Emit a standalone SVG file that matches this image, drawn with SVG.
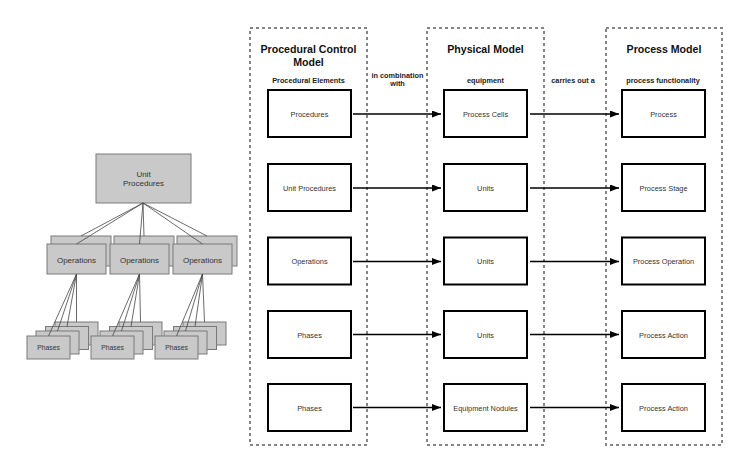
<svg xmlns="http://www.w3.org/2000/svg" width="750" height="458" viewBox="0 0 750 458">
<defs>
<style>
text{font-family:"Liberation Sans",Arial,sans-serif;text-anchor:middle;dominant-baseline:central}
.hdr{font-size:10.6px;font-weight:bold;fill:#111}
.sub{font-size:7.3px;font-weight:bold;fill:#222}
.lbl{font-size:7.4px;fill:#333}
.glbl{font-size:8px;fill:#333}
.plbl{font-size:6.8px;fill:#333}
.cont{fill:none;stroke:#858585;stroke-width:2;stroke-dasharray:3 3}
.box{fill:#fff;stroke:#000;stroke-width:2}
.gbox{fill:#c9c9c9;stroke:#7a7a7a;stroke-width:1}
.tree{stroke:#444;stroke-width:0.8;fill:none}
.arr{stroke:#000;stroke-width:1.5;fill:none;marker-end:url(#ah)}
</style>
<marker id="ah" markerUnits="userSpaceOnUse" markerWidth="10" markerHeight="8" refX="9" refY="3.5" orient="auto">
<path d="M0,0 L9,3.5 L0,7 z" fill="#000"/>
</marker>
</defs>
<rect width="750" height="458" fill="#fff"/>

<!-- left hierarchy -->
<g id="hierarchy">
<g id="unit-procedures-node">
<rect class="gbox" x="96" y="154" width="95" height="49"/>
<text class="glbl" x="143.5" y="174">Unit</text>
<text class="glbl" x="143.5" y="183">Procedures</text>
</g>
<g id="operations-1">
<rect class="gbox" x="51" y="236" width="60" height="30"/>
<rect class="gbox" x="47" y="244" width="59" height="30"/>
<text class="glbl" x="76.5" y="260">Operations</text>
</g>
<g id="operations-2">
<rect class="gbox" x="114" y="236" width="60" height="30"/>
<rect class="gbox" x="110" y="244" width="59" height="30"/>
<text class="glbl" x="139.5" y="260">Operations</text>
</g>
<g id="operations-3">
<rect class="gbox" x="177" y="236" width="60" height="30"/>
<rect class="gbox" x="173" y="244" width="59" height="30"/>
<text class="glbl" x="202.5" y="260">Operations</text>
</g>
<g id="phases-1">
<rect class="gbox" x="55" y="322" width="43" height="23"/>
<rect class="gbox" x="45.5" y="326.5" width="43" height="23"/>
<rect class="gbox" x="36" y="331" width="43" height="23"/>
<rect class="gbox" x="27" y="336" width="43" height="23"/>
<text class="plbl" x="48.5" y="347.5">Phases</text>
</g>
<g id="phases-2">
<rect class="gbox" x="119" y="322" width="43" height="23"/>
<rect class="gbox" x="109.5" y="326.5" width="43" height="23"/>
<rect class="gbox" x="100" y="331" width="43" height="23"/>
<rect class="gbox" x="91" y="336" width="43" height="23"/>
<text class="plbl" x="112.5" y="347.5">Phases</text>
</g>
<g id="phases-3">
<rect class="gbox" x="183" y="322" width="43" height="23"/>
<rect class="gbox" x="173.5" y="326.5" width="43" height="23"/>
<rect class="gbox" x="164" y="331" width="43" height="23"/>
<rect class="gbox" x="155" y="336" width="43" height="23"/>
<text class="plbl" x="176.5" y="347.5">Phases</text>
</g>
<g id="tree-lines" class="tree">
<path d="M143,203 L81,236 M143,203 L76.5,244 M143,203 L144,236 M143,203 L139.5,244 M143,203 L207,236 M143,203 L202.5,244"/>
<path d="M76.5,274 L48.5,336 M76.5,274 L57.5,331 M76.5,274 L67,326.5 M76.5,274 L76.5,322"/>
<path d="M139.5,274 L112.5,336 M139.5,274 L121.5,331 M139.5,274 L131,326.5 M139.5,274 L140.5,322"/>
<path d="M202.5,274 L176.5,336 M202.5,274 L185.5,331 M202.5,274 L195,326.5 M202.5,274 L204.5,322"/>
</g>
</g>

<!-- containers -->
<g id="containers">
<rect class="cont" x="250" y="28" width="117" height="417"/>
<rect class="cont" x="427" y="28" width="117" height="417"/>
<rect class="cont" x="606" y="28" width="116" height="417"/>
</g>

<g id="headers">
<text class="hdr" x="308.5" y="49">Procedural Control</text>
<text class="hdr" x="308.5" y="62">Model</text>
<text class="sub" x="308.5" y="80">Procedural Elements</text>
<text class="hdr" x="485.5" y="49">Physical Model</text>
<text class="sub" x="485.5" y="80.5">equipment</text>
<text class="hdr" x="664" y="49">Process Model</text>
<text class="sub" x="663" y="80.5">process functionality</text>
<text class="sub" x="397.5" y="75.5">in combination</text>
<text class="sub" x="397.5" y="83.5">with</text>
<text class="sub" x="573" y="80.5">carries out a</text>
</g>

<!-- procedural elements -->
<g id="pe-procedures"><rect class="box" x="268" y="90" width="83" height="47"/><text class="lbl" x="309.5" y="114">Procedures</text></g>
<g id="pe-unit-procedures"><rect class="box" x="268" y="164" width="83" height="47"/><text class="lbl" x="309.5" y="188">Unit Procedures</text></g>
<g id="pe-operations"><rect class="box" x="268" y="237.5" width="83" height="47"/><text class="lbl" x="309.5" y="261.5">Operations</text></g>
<g id="pe-phases-1"><rect class="box" x="268" y="311" width="83" height="47"/><text class="lbl" x="309.5" y="335">Phases</text></g>
<g id="pe-phases-2"><rect class="box" x="268" y="384" width="83" height="47"/><text class="lbl" x="309.5" y="408">Phases</text></g>

<!-- physical model -->
<g id="pm-process-cells"><rect class="box" x="444" y="90" width="83" height="47"/><text class="lbl" x="485.5" y="114">Process Cells</text></g>
<g id="pm-units-1"><rect class="box" x="444" y="164" width="83" height="47"/><text class="lbl" x="485.5" y="188">Units</text></g>
<g id="pm-units-2"><rect class="box" x="444" y="237.5" width="83" height="47"/><text class="lbl" x="485.5" y="261.5">Units</text></g>
<g id="pm-units-3"><rect class="box" x="444" y="311" width="83" height="47"/><text class="lbl" x="485.5" y="335">Units</text></g>
<g id="pm-equipment-nodules"><rect class="box" x="444" y="384" width="83" height="47"/><text class="lbl" x="485.5" y="408">Equipment Nodules</text></g>

<!-- process model -->
<g id="pr-process"><rect class="box" x="622" y="90" width="83" height="47"/><text class="lbl" x="663.5" y="114">Process</text></g>
<g id="pr-process-stage"><rect class="box" x="622" y="164" width="83" height="47"/><text class="lbl" x="663.5" y="188">Process Stage</text></g>
<g id="pr-process-operation"><rect class="box" x="622" y="237.5" width="83" height="47"/><text class="lbl" x="663.5" y="261.5">Process Operation</text></g>
<g id="pr-process-action-1"><rect class="box" x="622" y="311" width="83" height="47"/><text class="lbl" x="663.5" y="335">Process Action</text></g>
<g id="pr-process-action-2"><rect class="box" x="622" y="384" width="83" height="47"/><text class="lbl" x="663.5" y="408">Process Action</text></g>

<!-- connectors -->
<g id="connectors">
<line class="arr" x1="353" y1="114" x2="441" y2="114"/>
<line class="arr" x1="353" y1="188" x2="441" y2="188"/>
<line class="arr" x1="353" y1="261.5" x2="441" y2="261.5"/>
<line class="arr" x1="353" y1="334.5" x2="441" y2="334.5"/>
<line class="arr" x1="353" y1="407.5" x2="441" y2="407.5"/>
<line class="arr" x1="530" y1="114" x2="619" y2="114"/>
<line class="arr" x1="530" y1="188" x2="619" y2="188"/>
<line class="arr" x1="530" y1="261.5" x2="619" y2="261.5"/>
<line class="arr" x1="530" y1="334.5" x2="619" y2="334.5"/>
<line class="arr" x1="530" y1="407.5" x2="619" y2="407.5"/>
</g>
</svg>
